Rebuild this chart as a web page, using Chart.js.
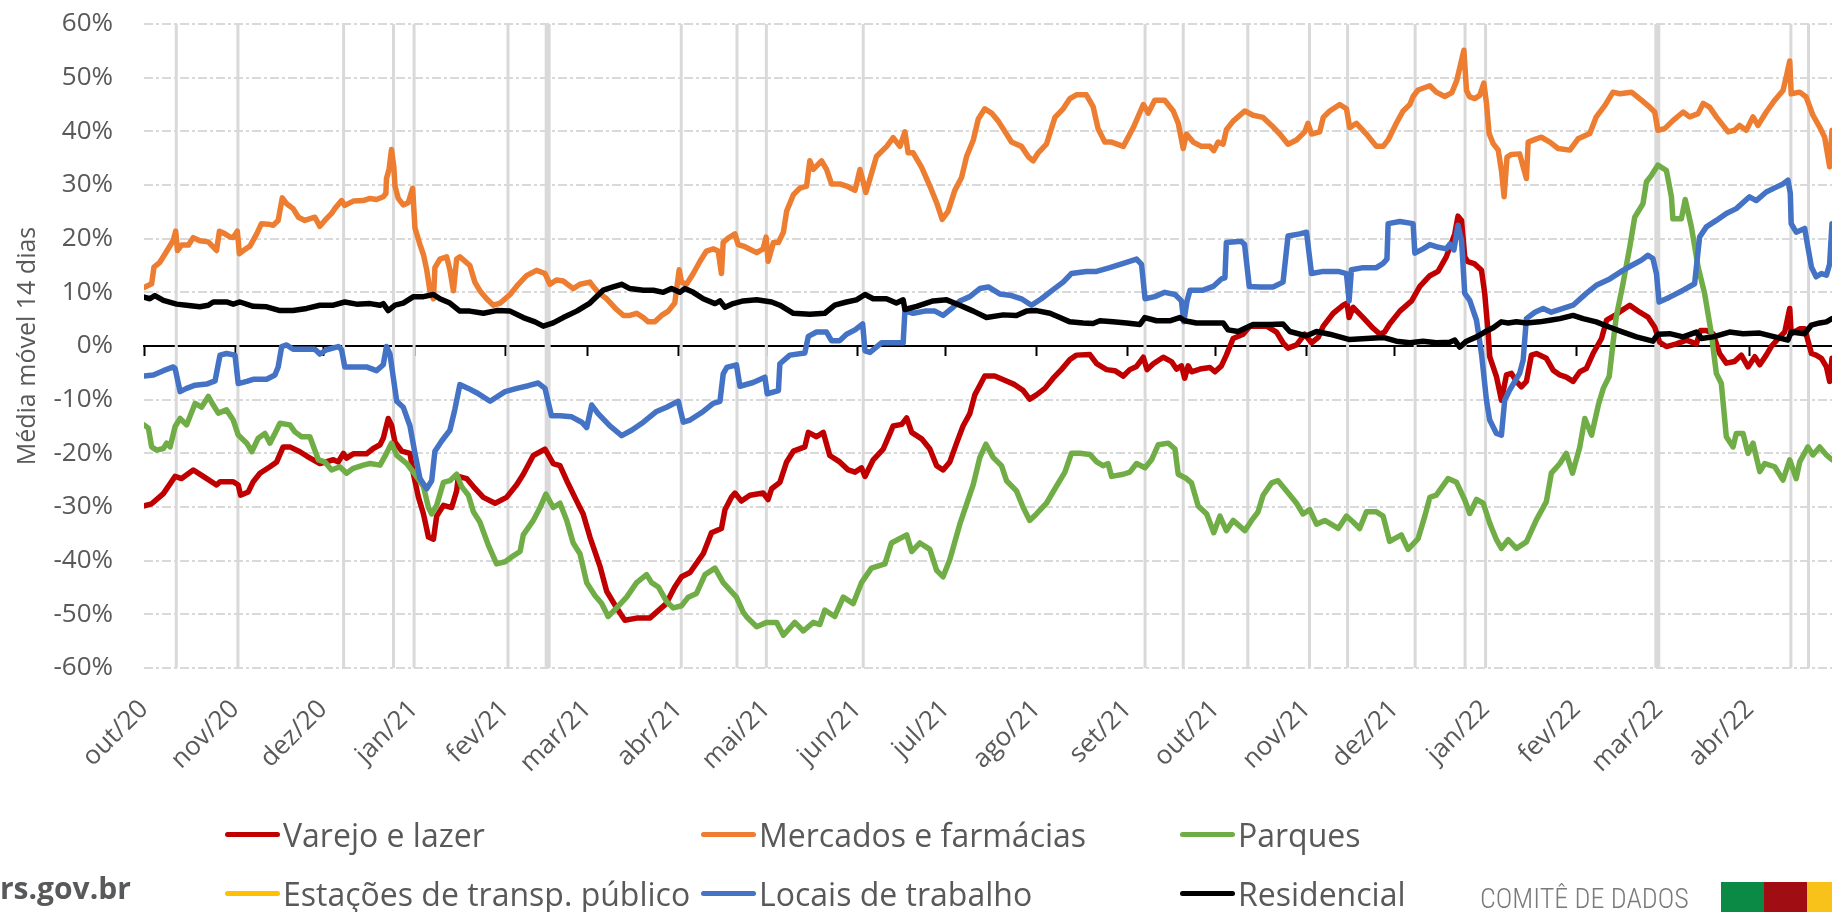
<!DOCTYPE html>
<html lang="pt-BR">
<head>
<meta charset="utf-8">
<title>Mobilidade - média móvel 14 dias</title>
<script src="https://cdn.jsdelivr.net/npm/chart.js@4.4.1/dist/chart.umd.min.js"></script>
<style>
  html, body { margin: 0; padding: 0; background: #fff; }
  body { width: 1832px; height: 912px; position: relative; overflow: hidden; font-family: 'Open Sans', sans-serif; }
  #grafico { position: absolute; left: 0; top: 0; }
  #legenda { position: absolute; left: 225px; top: 805px; display: grid; grid-template-columns: 476px 479px auto; grid-auto-rows: 59px; }
  .item { display: flex; align-items: center; font-size: 32px; color: #595959; white-space: nowrap; line-height: 1; }
  .traco { display: inline-block; width: 55px; height: 5px; border-radius: 3px; margin-right: 3px; }
  .rs { position: absolute; left: 0; top: 868px; font-weight: bold; font-size: 30px; line-height: 40px; color: #58595b; }
  .comite { position: absolute; left: 1480px; top: 884px; font-family: 'Liberation Sans Narrow', 'Roboto', sans-serif; font-stretch: condensed; font-weight: 300; font-size: 28px; line-height: 30px; color: #7a7a7a; }
  .faixa { position: absolute; top: 882px; width: 43px; height: 30px; }
</style>
</head>
<body>
<canvas id="grafico" width="1832" height="912"></canvas>
<div id="legenda"></div>
<div class="rs">rs.gov.br</div>
<div class="comite">COMITÊ DE DADOS</div>
<div class="faixa" style="left:1721px;background:#0b8a45"></div>
<div class="faixa" style="left:1764px;background:#a00d12"></div>
<div class="faixa" style="left:1807px;background:#f8c21b"></div>
<script>
const COLORS = {
    varejo: '#c00000',
    mercados: '#ed7d31',
    parques: '#70ad47',
    estacoes: '#ffc000',
    locais: '#4472c4',
    residencial: '#000000',
    feriado: '#d9d9d9',
    grid: '#d9d9d9',
    text: '#595959',
};

// dia 0 = 01/out/2020
const DIA0 = Date.UTC(2020, 9, 1);
const dia = s => (Date.parse(s) - DIA0) / 864e5;
const X_MAX = 575;
const Y_MIN = -60, Y_MAX = 60;

const meses = ['out/20', 'nov/20', 'dez/20', 'jan/21', 'fev/21', 'mar/21', 'abr/21', 'mai/21', 'jun/21',
    'jul/21', 'ago/21', 'set/21', 'out/21', 'nov/21', 'dez/21', 'jan/22', 'fev/22', 'mar/22', 'abr/22'];
const inicioMes = meses.map((m, i) => (Date.UTC(2020, 9 + i, 1) - DIA0) / 864e5);

const feriados = ['2020-10-12', '2020-11-02', '2020-12-08', '2020-12-25', '2021-01-01', '2021-02-02',
    '2021-02-15', '2021-02-16', '2021-04-02', '2021-04-21', '2021-05-01', '2021-06-03', '2021-09-07',
    '2021-09-20', '2021-10-12', '2021-11-02', '2021-11-15', '2021-12-08', '2021-12-25', '2022-01-01',
    '2022-02-28', '2022-03-01', '2022-04-15', '2022-04-21'];

// [dia, variação %]
const varejo = [[0,-29.8],[2.6,-29.4],[6.6,-27.5],[10.6,-24.3],[12.8,-24.7],[16.8,-23.1],[20.2,-24.3],[24.7,-25.9],[25.9,-25.3],[30.4,-25.3],[32.1,-25.9],[32.9,-27.8],[35.5,-27.2],[37.2,-25.3],[39.5,-23.7],[42.9,-22.5],[45.2,-21.6],[47.4,-18.8],[49.7,-18.8],[53.1,-19.7],[55.4,-20.5],[59.9,-21.9],[64.5,-21.2],[66.2,-21.6],[67.9,-20],[69,-20.9],[71.3,-20.1],[75.8,-20.1],[78.1,-19.1],[80.4,-18.4],[81.5,-17.2],[83.2,-13.5],[84.3,-14.7],[85.5,-17.9],
    [87.8,-19.6],[90.6,-20],[91.8,-23.9],[93.5,-28.2],[95.2,-31.3],[96.9,-35.6],[98.6,-36],[99.7,-31.7],[102,-29.7],[104.8,-30.1],[106.5,-27],[107.1,-24.3],[109.9,-24.7],[112.2,-26.2],[115.6,-28.2],[119.6,-29.3],[123.5,-28.2],[127,-25.8],[129.2,-23.9],[132.6,-20.4],[136.6,-19.2],[139.4,-21.9],[141.7,-22.3],[144,-25.1],[147.4,-28.9],[149.6,-31.3],[151.9,-35.6],[155.3,-41],[157.6,-45.7],[161,-48.8],[163.8,-51.1],[167.8,-50.7],[172.3,-50.7],[174.6,-49.6],[177.9,-48],[180.8,-44.9],[183.1,-43],[186,-42.2],[190.5,-38.7],[193.3,-34.8],[196.7,-34],[197.9,-30.5],[200.1,-28.2],[201.3,-27.4],[203.5,-28.9],
    [206.4,-27.8],[210.9,-27.4],[212.6,-28.6],[213.8,-26.6],[216.6,-25.4],[218.9,-21.6],[221.2,-19.6],[225.1,-18.8],[226.3,-16.1],[229.1,-16.9],[231.4,-16.1],[233.6,-20.4],[237,-21.6],[239.9,-23.1],[242.2,-23.5],[244.4,-22.7],[245.6,-24.3],[248.4,-21.2],[251.8,-19.2],[255.2,-14.9],[258.1,-14.6],[259.8,-13.4],[261.5,-16.1],[264.9,-17.3],[267.7,-19.2],[270,-22.3],[272.2,-23.1],[274.5,-21.6],[276.8,-18.1],[279,-14.9],[281.3,-12.6],[283,-9.1],[286.4,-5.6],[289.8,-5.6],[293.2,-6.4],[296.6,-7.2],[299.5,-8.3],[301.7,-9.9],[304,-9.1],[306.9,-7.9],[309.7,-6],[312.5,-4.4],[315.4,-2.5],[317.6,-1.7],[322.2,-1.6],
    [324.5,-3.3],[327.9,-4.4],[330.7,-4.6],[333.6,-5.6],[335.8,-4.4],[338.1,-3.8],[340.4,-2.1],[341.7,-4.4],[343.8,-3.3],[347.2,-2.1],[350,-2.9],[351.7,-4.3],[353.4,-3.7],[354.5,-6],[355.7,-3.7],[356.8,-4.8],[359.7,-4.3],[363.1,-4],[364.8,-4.8],[367,-3.7],[368.7,-1.7],[371,1.4],[374.4,2.2],[376.7,3.7],[382.4,3.7],[385.8,2.6],[388,0.6],[389.7,-0.4],[392.6,0.2],[395.4,2.2],[397.7,0.6],[400,1.6],[401.7,3.7],[405.1,6.1],[408.5,7.6],[409.8,8],[410.5,5.3],[411.9,7.2],[415.3,5.3],[418.7,3.3],[421,2.2],[422.6,2.6],[424.3,4.1],[427.8,6.5],[431.8,8.4],[434.6,11.1],[438,13.1],[440.8,13.9],[443.6,16.6],
    [446.5,20.9],[447.6,24.2],[448.8,23.4],[449.9,16.6],[451,15.7],[453.3,15.3],[455.6,14.1],[456.7,9.8],[457.9,2.3],[458.4,-2],[460.7,-5.7],[462.4,-10.1],[464.1,-5.4],[465.8,-5.1],[467.5,-6.6],[469.2,-7.6],[470.9,-6.6],[472.6,-1.7],[474.3,-1.4],[477.7,-2.3],[480,-4.5],[482.3,-5.4],[484.5,-5.8],[486.8,-6.6],[489.1,-4.8],[491.3,-4.2],[493.6,-1.4],[496.5,1.4],[498.2,4.8],[501,5.7],[503.3,6.6],[506.1,7.6],[509.5,6.3],[512.3,5.4],[514.6,3.5],[516.3,0.7],[518.6,-0.1],[522,0.4],[525.4,1.1],[528.8,0.4],[530.2,2.9],[532.2,2.9],[534.5,2.3],[536.7,-1.4],[539,-3.2],[541.8,-2.9],[544.1,-1.7],[546.4,-3.9],[548.7,-2],[550.4,-3.5],[552.6,-1.7],[554.3,-0.1],[557.2,1.7],[558.9,2.6],[560.6,7],[561.1,2.3],[564,3.2],[565.7,3.2],[568,-1.4],[569.6,-1.7],[571.4,-2.3],[573.1,-3.9],[574.2,-6.6],[575,-2.3]];

const mercados = [[0,10.9],[2.6,11.6],[3.4,14.7],[5.4,15.6],[7.2,17.2],[10,19.7],[10.8,21.4],[11.4,17.8],[12.8,18.8],[15.1,18.8],[16.8,20.2],[19,19.6],[21.9,19.4],[24.7,17.8],[25.7,21.4],[27.6,20.9],[29.3,20.3],[30.4,20.2],[31.8,21.4],[32.5,17.2],[34.4,18],[36.1,18.6],[38.4,20.9],[40,22.8],[42.3,22.7],[44,22.5],[45.7,23.4],[47.1,27.6],[48.6,26.5],[50.8,25.6],[52.6,24],[54.8,23.4],[58.2,24],[59.9,22.3],[61.6,23.4],[63.9,24.7],[65,25.6],[67.3,27.1],[68.4,26.2],[71.3,27],[74.7,27.1],[77,27.5],[79.2,27.3],[81.5,27.8],[82.4,28.4],[82.6,31.2],[83.5,33],[84.3,36.6],[85.1,33.4],[85.5,29.8],[86.6,27.5],[88.3,26.3],[90,26.7],[91.5,29.4],[92.3,22],[94,18.9],[95.2,17],[96.3,14.2],[97.4,10.3],[98.6,8.8],[99.1,14.6],[100.8,16.2],[103.1,16.6],[104.2,14.2],[105.4,10.3],[106.5,16.2],[107.6,16.6],[109.3,15.8],[111,15],[112.7,11.9],[114.4,10.3],[116.7,8.8],[119,7.6],[121.3,8],[124.7,9.6],[127.5,11.5],[130.3,13.1],[133.7,14.1],[136.6,13.5],[138.3,11.5],[140.5,12.3],[142.8,12.1],[146.2,10.7],[148.5,11.5],[151.9,11.9],[153,11.1],[154.7,10],[157.6,8.8],[161,6.8],[163.3,5.7],[165.5,5.7],[167.8,6.1],[170.1,5.3],[171.8,4.5],[174,4.5],[176.3,5.7],[178.6,6.5],[180.8,8],[182.3,14.2],[183.1,11.9],[184.8,11.5],[187.1,13.5],[189.4,15.8],[191.6,17.7],[193.9,18.1],[195.6,17.7],[196.7,13.5],[197.3,19.3],[199,20.1],[200.1,20.5],[201.3,20.9],[202.4,18.9],[204.7,18.5],
    [208.7,17.4],[210.9,18.1],[211.9,20.3],[212.6,15.8],[214.4,19.3],[216.1,19.3],[217.8,21.2],[218.9,25.1],[221.2,28.2],[223.4,29.4],[225.7,29.8],[226.8,34.5],[228,32.9],[230.8,34.5],[232.5,32.9],[234.2,30.2],[237,30.2],[239.3,29.8],[242.2,29],[243.9,32.9],[245.9,28.6],[247.8,32.1],[249.5,35.3],[253,37.2],[255.2,38.8],[257.5,37.2],[259.2,39.9],[260.3,36],[262,36],[264.9,33.3],[267.7,29.8],[270,26.7],[271.9,23.6],[273.9,25.1],[276.2,29],[278.5,31.4],[280.2,35.3],[282.5,38.4],[284.2,42.3],[286.4,44.2],[288.7,43.4],[291,41.9],[293.8,39.5],[295.5,38],[298.9,37.2],[301.2,35.3],[302.9,34.5],[304.6,36],[307.4,37.6],[310.3,42.6],[313.1,44.2],[315.4,46.1],[317.6,46.8],[321,46.8],[323.3,44.6],
    [325,40.5],[327.3,38],[329.6,38],[333.6,37.2],[337,40.7],[340.4,45],[342.1,43.4],[344.3,45.8],[347.7,45.8],[350.6,43.8],[352.3,41.5],[354,36.8],[355.1,39.5],[357.4,38],[360.2,37.2],[363.1,37.2],[364.4,36.4],[365.9,38],[367.6,37.6],[368.7,40.3],[371,41.9],[375,43.8],[377.8,43],[381.2,42.6],[384.1,41.1],[386.9,39.5],[389.7,37.6],[392.6,38.4],[395.4,39.9],[396.5,41.5],[397.7,39.5],[400.5,39.9],[401.7,42.6],[403.9,43.8],[407.3,45],[409.6,44.2],[410.7,40.7],[413,41.5],[416.4,39.5],[419.8,37.2],[422.1,37.2],[423.8,38.4],[426.6,41.5],[428.9,43.8],[431.2,45],[432.3,46.5],[434,47.7],[438,48.5],[440.2,47.3],[443.1,46.5],
    [445.5,47.2],[447.2,49.5],[448.5,52.5],[449.6,55.1],[450.5,47.6],[451.6,46.4],[453.3,46.1],[455,46.7],[456.4,49],[457.3,45.2],[458.2,39.6],[459.6,37.7],[461.3,36.5],[462.4,32.7],[463.3,27.8],[464.3,35.2],[465.8,35.7],[468.6,35.8],[469.8,33.4],[470.9,31.2],[471.5,38],[474.3,38.6],[476,38.9],[478.9,38],[481.7,36.8],[485.7,36.5],[488.5,38.6],[492.5,39.6],[494.7,42.7],[497.6,44.8],[500.4,47.3],[502.7,47],[506.7,47.3],[510.1,45.8],[512.9,44.5],[514.6,43.6],[515.7,40.2],[518,40.5],[520.8,42],[524.3,43.6],[526.5,42.7],[529.4,43.3],[531.1,45.2],[533.3,44.5],[535.6,42.7],[539.6,39.9],[541.8,40.2],[543.5,41.1],[545.8,40.2],[548.1,42.7],[549.8,41.1],[552.6,43.6],[555.5,45.8],[558.3,47.6],[559.4,50.1],[560.6,53.1],[561.1,47],[564,47.3],[566.2,46.4],[568.5,43],[570.8,40.8],[572.5,38.9],[574.2,33.4],[575,40.2]];

const parques = [[0,-14.7],[1.5,-15.3],[2.6,-18.8],[4.3,-19.4],[6.6,-19.1],[7.7,-18.1],[8.9,-18.8],[10.6,-15],[12.3,-13.5],[14.5,-14.7],[17.4,-10.7],[19.6,-11.4],[21.9,-9.4],[23.6,-11],[25.3,-12.5],[28.1,-11.9],[30.4,-13.8],[32.1,-16.6],[35,-18.1],[36.7,-19.7],[38.9,-17.2],[41.2,-16.3],[42.9,-18.1],[44.6,-16.3],[46.3,-14.4],[49.7,-14.7],[51.4,-16],[53.7,-16.9],[56.5,-16.9],[59.4,-21.2],[61.6,-21.6],[63.9,-23.1],[66.7,-22.5],[69,-23.7],[71.3,-22.8],[74.7,-22.2],[77,-21.9],[80.4,-22.2],[82.6,-20],[84.3,-18.1],[86.1,-20.4],[89.5,-21.9],[92.3,-23.9],[95.2,-26.2],[96.9,-30.1],[98,-31.3],[99.7,-29.7],[102,-25.4],[104.2,-25.1],[106.5,-23.9],[108.2,-26.2],[110.5,-27.8],[112.2,-30.9],[114.4,-32.8],[117.3,-37.1],[120.1,-40.6],[123,-40.2],[125.8,-39.1],[128.1,-38.3],[129.2,-35.2],[132.6,-32.5],[134.9,-30.1],[136.9,-27.6],[139.4,-30.1],[141.7,-29.3],[144,-32.5],[146.2,-36.7],[148.5,-38.7],[150.8,-44.1],[153.6,-46.5],[155.9,-48],[158.1,-50.4],[161,-48.8],[164.4,-46.8],[167.8,-44.1],[171.2,-42.6],[172.9,-44.1],[175.2,-44.9],[178,-47.6],[180.3,-48.8],[183.1,-48.4],[185.4,-46.8],[188.2,-46.1],[191.1,-42.6],[194.5,-41.4],[197.3,-44.1],[201.8,-46.8],[204.1,-49.6],
    [205.5,-50.6],[208.7,-52.3],[212.1,-51.5],[215.5,-51.5],[217.8,-53.9],[221.7,-51.5],[224.6,-53.1],[228,-51.5],[230.2,-51.9],[231.9,-49.2],[235.3,-50.4],[238.2,-46.8],[241.6,-48],[244.4,-44.1],[247.8,-41.4],[252.4,-40.6],[254.6,-36.7],[259.8,-35.2],[261.5,-38.3],[264.3,-36.7],[267.7,-37.9],[270,-41.8],[272.2,-43],[274.5,-39.8],[277.9,-33.2],[282.5,-25.8],[284.7,-20.8],[286.8,-18.3],[289.3,-20.8],[292.1,-22.3],[293.8,-25.1],[297.2,-27],[299.5,-30.1],[301.7,-32.5],[304,-31.3],[307.4,-29.3],[310.3,-26.6],[313.7,-23.5],[315.9,-20],[318.8,-20],[322.2,-20.2],
    [324.5,-21.6],[326.7,-22.3],[328.4,-21.9],[329.6,-24.3],[333.6,-23.9],[335.8,-23.5],[338.1,-21.9],[341,-22.7],[343.2,-21.2],[345.5,-18.4],[348.9,-18.1],[351.2,-19.2],[352.3,-23.9],[355.1,-24.7],[356.8,-25.5],[359.1,-29.8],[362,-31.3],[364.4,-34.8],[366.5,-31.7],[368.7,-34.4],[371,-32.5],[375,-34.4],[377.3,-32.5],[379.5,-30.9],[381.2,-27.8],[384.1,-25.5],[386.3,-25.1],[389.2,-27],[392.6,-29.3],[394.8,-31.3],[397.1,-30.5],[399.4,-33.2],[402.2,-32.5],[406.8,-34],[409.6,-31.7],[411.9,-32.8],[414.1,-34],[416.4,-30.9],[419.8,-30.9],[422.1,-31.7],[424.3,-36.4],[428.3,-35.2],[430.6,-37.9],[434,-35.9],[436.3,-31.7],[438,-28.2],[440.2,-27.8],[444.2,-24.7],[447.1,-25.4],
    [449.9,-28.7],[451.6,-31.2],[453.9,-28.6],[456.2,-29.3],[458.4,-33],[460.7,-36.1],[462.4,-37.7],[464.7,-36.1],[467.5,-37.7],[470.9,-36.5],[474.3,-32.4],[477.7,-29],[479.4,-23.7],[482.3,-21.9],[484.5,-20],[486.6,-23.7],[489.1,-18.8],[490.8,-13.5],[493.1,-16.6],[495.4,-11],[497.1,-7.9],[499.1,-5.7],[500.4,0.5],[501.5,5.4],[503.8,11.6],[506.1,18.4],[507.8,24],[510.6,26.5],[511.8,30.6],[513.5,31.8],[515.7,33.7],[518.6,32.7],[520.3,27.8],[520.8,23.7],[523.7,23.7],[525,27.3],[527.1,22.2],[529.4,14.7],[531.6,9.8],[533.9,2.3],[535.6,-5.1],[537.3,-7],[539,-16.9],[541.3,-18.8],[542.4,-16.3],[544.7,-16.3],[546.4,-20],[548.1,-18.1],[550.4,-23.4],[552.1,-21.9],[555.5,-22.5],[558.3,-25],[560.6,-21.2],[562.8,-24.7],[564,-21.6],[566.8,-18.8],[568.5,-20.3],[570.8,-18.8],[573.1,-20.3],[575,-21.2]];

// série sem dados visíveis no período
const estacoes = [];

const locais = [[0,-5.6],[3.2,-5.4],[6.6,-4.6],[10,-3.9],[10.6,-4.2],[12.3,-8.5],[14.5,-7.9],[17.4,-7.3],[21.3,-7.1],[24.2,-6.5],[25.9,-1.7],[28.1,-1.4],[31,-1.7],[32.1,-7],[35,-6.6],[37.2,-6.2],[41.8,-6.2],[44.6,-5.4],[45.7,-3.9],[46.9,-0.1],[48.6,0.2],[50.8,-0.6],[55.4,-0.6],[58.2,-0.6],[59.9,-1.5],[62.2,-0.7],[66.2,-0.1],[67.3,-0.7],[68.4,-3.9],[71.3,-3.9],[75.8,-3.9],[79.2,-4.6],[81.5,-3.5],[82.6,-0.1],[83.8,-1.5],[84.9,-5.8],[86.1,-10.3],[88.3,-11.4],[90.6,-14.9],[92.3,-20],[94,-24.7],[96.3,-26.6],[98,-25.1],[99.1,-19.6],[101.4,-17.7],[104.2,-15.7],[105.9,-11.8],[107.6,-7.2],[110.5,-7.9],[113.3,-8.7],[117.9,-10.3],[123,-8.5],[127,-7.9],[130.9,-7.4],[134.3,-6.9],[136.6,-7.9],[138.8,-13],[141.7,-13],[145.7,-13.2],[149.1,-14.2],[150.8,-15.2],[152.5,-11],[154.7,-12.6],[158.7,-14.9],[162.7,-16.7],[166.1,-15.7],[170.1,-14.2],[174.6,-12.2],[178,-11.4],[182,-10.3],[183.7,-14.2],[186,-13.8],[190.5,-12.2],[193.9,-10.7],[196.2,-10.3],[197.3,-5.2],[198.5,-4],[201.8,-3.5],[203,-7.5],
    [207.5,-6.8],[211.5,-5.8],[212.3,-8.9],[216.1,-8.3],[216.6,-3.3],[220,-1.7],[225.1,-1.3],[226.3,1.8],[229.1,2.6],[232.5,2.6],[234.2,1],[237,1],[239.3,2.2],[242.2,3],[244.8,4.1],[245.6,-0.9],[247.3,-1.2],[251.2,0.6],[258.6,0.6],[259.2,6.5],[262,6.1],[266,6.5],[269.4,6.5],[272.2,5.7],[275.6,7.2],[277.9,8.4],[281.3,9.2],[284.7,10.7],[287.6,11],[291.5,9.7],[295.5,9.4],[298.9,8.8],[302.3,7.6],[305.7,8.8],[309.7,10.5],[313.1,11.9],[315.9,13.5],[321,13.9],
    [324.5,13.9],[329,14.6],[333.6,15.4],[338.1,16.2],[339.8,15.2],[341,8.8],[344.3,9.2],[347.7,10],[351.2,9.6],[353.4,8.4],[354.2,4.5],[355.3,8.4],[356.3,10.4],[360.8,10.4],[364.2,11.1],[367,12.5],[368.2,12.7],[368.7,19.3],[373.8,19.5],[374.9,18.9],[376.5,11.1],[380.1,11],[384.6,11],[388,11.9],[389.7,20.5],[393.7,20.9],[396,21.2],[397.7,13.5],[401.7,13.9],[406.8,13.9],[409.6,13.5],[410.5,8.4],[411.3,14.2],[415.3,14.6],[419.8,14.6],[422.1,15.4],[423.4,16.2],[423.8,22.8],[427.8,23.2],[432.3,22.8],[432.9,17.3],[435.7,18.1],[438,18.9],[440.2,18.5],[443.6,18.1],
    [444.8,19],[446.2,17.9],[447.6,22.5],[448.8,19.7],[449.9,9.8],[451.6,8.5],[453.9,4.8],[455.6,-1.4],[457.3,-10.1],[458.4,-13.8],[460.7,-16.3],[462.4,-16.6],[463.5,-10.1],[465.2,-8.2],[468.6,-5.1],[469.8,-2.6],[470.9,5.1],[473.8,6.3],[476.6,7],[479.4,6.3],[483.4,7],[486.8,7.6],[491.3,9.8],[494.7,11.3],[499.3,12.5],[503.8,14.1],[506.7,15],[510.1,16],[512.3,16.9],[514,16.3],[515.2,13.5],[516.1,8.2],[519.7,9.1],[524.3,10.4],[528.2,11.6],[528.8,14.7],[529.9,20.3],[532.2,22.2],[535.6,23.4],[539,24.7],[542.4,25.6],[546.9,27.8],[549.2,27.1],[552.6,28.7],[556,29.6],[558.3,30.2],[560,30.9],[560.8,28.4],[561.1,22.8],[562.8,21.2],[565.7,21.9],[566.8,18.4],[568,14.7],[569.6,12.9],[571.4,13.5],[573.1,13.2],[574.2,15.3],[575,22.8]];

const residencial = [[0,9.1],[2,8.8],[3.7,9.4],[6.6,8.5],[11.1,7.8],[14.5,7.6],[19,7.3],[21.9,7.6],[23.6,8.2],[28.1,8.2],[30.4,7.8],[32.7,8.2],[37.2,7.4],[41.8,7.3],[46.3,6.6],[50.8,6.6],[55.4,7],[59.9,7.6],[64.5,7.6],[68.4,8.2],[72.4,7.8],[77,7.9],[80.4,7.6],[81.5,7.9],[83.2,6.6],[85.5,7.6],[88.3,8],[91.8,9.2],[95.2,9.2],[98.6,9.6],[100.8,8.8],[104.2,8],[107.6,6.5],[111,6.5],[115.6,6.1],[120.1,6.6],[124.7,6.5],[129.2,5.3],[133.2,4.5],[136,3.7],[139.4,4.3],[142.8,5.3],[147.4,6.5],[151.9,8],[156.4,10.4],[159.8,11],[162.7,11.5],[165.5,10.7],[170.1,10.4],[173.5,10.4],[176.9,10],[179.7,10.7],[182.5,10],[184.2,10.7],[187.1,10],[190.5,8.8],[194.5,7.9],[196.2,8.4],[197.9,7.2],[200.7,7.9],[204.1,8.4],
    [208.7,8.6],[213.8,8.2],[216.6,7.6],[221.2,6.1],[226.8,5.9],[231.9,6.1],[235.3,7.6],[239.3,8.2],[242.7,8.6],[245.6,9.6],[248.4,8.8],[252.9,8.8],[256.3,8],[258.6,8.6],[259.2,6.8],[263.2,7.4],[268.8,8.4],[273.4,8.6],[277.9,7.6],[282.5,6.5],[287,5.3],[292.7,5.8],[297.2,5.7],[300.6,6.5],[304,6.6],[308.6,6.1],[312,5.3],[315.4,4.5],[319.9,4.3],[323.3,4.2],
    [325.6,4.7],[330.1,4.5],[334.7,4.3],[339.2,4],[340.9,5.3],[344.9,4.7],[349.4,4.7],[352.8,5.3],[354.5,4.7],[358.5,4.3],[364.2,4.3],[367.6,4.3],[369.3,3],[372.7,2.7],[377.8,4],[383.5,4],[388,4.1],[390.3,2.7],[396,1.9],[399.4,2.7],[403.9,2.2],[410.7,1.2],[416.4,1.4],[422.1,1.6],[426.6,0.9],[431.2,0.6],[435.7,0.9],[440.2,0.6],
    [444.8,0.7],[446.5,1.1],[448.2,-0.2],[450.5,0.9],[453.9,1.7],[456.7,2.6],[459.6,3.4],[462.4,4.5],[464.7,4.3],[467.5,4.5],[470.9,4.3],[475.4,4.5],[478.9,4.8],[482.3,5.1],[486.8,5.7],[490.2,5.1],[494.7,4.5],[499.3,3.5],[503.8,2.6],[508.4,1.7],[514,0.9],[515.7,2.2],[519.7,2.3],[524.3,1.7],[528.8,2.6],[530.5,1.4],[534.5,1.7],[540.1,2.6],[544.7,2.3],[550.4,2.4],[555.5,1.7],[560,1.1],[561.1,2.6],[565.7,2.3],[568,3.9],[570.8,4.3],[573.1,4.5],[575,5.1]];

const serie = (label, pontos, cor, ordem) => ({
    label,
    data: pontos.map(([x, y]) => ({ x, y })),
    borderColor: cor,
    backgroundColor: cor,
    borderWidth: 5.5,
    borderJoinStyle: 'round',
    borderCapStyle: 'round',
    pointRadius: 0,
    tension: 0,
    order: ordem,
});

// linhas verticais cinzas nos feriados
const linhasFeriados = feriados.flatMap(f => [
    { x: dia(f), y: Y_MIN }, { x: dia(f), y: Y_MAX }, { x: dia(f), y: null }
]);

const marcasMes = scale => { scale.ticks = inicioMes.map(v => ({ value: v })); };

const grafico = new Chart(document.getElementById('grafico'), {
    type: 'line',
    data: {
        datasets: [
            serie('Varejo e lazer', varejo, COLORS.varejo, 6),
            serie('Mercados e farmácias', mercados, COLORS.mercados, 5),
            serie('Parques', parques, COLORS.parques, 4),
            serie('Estações de transp. público', estacoes, COLORS.estacoes, 3),
            serie('Locais de trabalho', locais, COLORS.locais, 2),
            serie('Residencial', residencial, COLORS.residencial, 1),
            {
                label: '',
                data: linhasFeriados,
                borderColor: COLORS.feriado,
                borderWidth: 3,
                pointRadius: 0,
                spanGaps: false,
                order: 10,
            }
        ]
    },
    options: {
        responsive: false,
        devicePixelRatio: 1,
        animation: false,
        layout: { padding: { top: 24, left: 0, right: 0, bottom: 0 } },
        plugins: {
            legend: { display: false },
            tooltip: { enabled: false }
        },
        scales: {
            x: {
                type: 'linear',
                position: 'bottom',
                min: 0,
                max: X_MAX,
                afterBuildTicks: marcasMes,
                afterFit: scale => { scale.height = 244; },
                grid: { display: false, drawTicks: false },
                border: { display: false },
                ticks: {
                    autoSkip: false,
                    minRotation: 45,
                    maxRotation: 45,
                    padding: 26,
                    color: COLORS.text,
                    font: { family: 'Open Sans', size: 26 },
                    callback: (v, i) => meses[i]
                }
            },
            x0: {
                type: 'linear',
                axis: 'x',
                position: { y: 0 },
                min: 0,
                max: X_MAX,
                afterBuildTicks: marcasMes,
                grid: { drawOnChartArea: false, drawTicks: true, tickLength: 9, tickWidth: 2, tickColor: '#000' },
                border: { display: true, color: '#000', width: 2 },
                ticks: { display: false }
            },
            y: {
                position: 'left',
                min: Y_MIN,
                max: Y_MAX,
                afterFit: scale => { scale.width = 144; },
                // espaço entre rótulos e área do gráfico via marca invisível
                grid: { color: COLORS.grid, lineWidth: 2, drawTicks: true, tickLength: 30, tickColor: 'transparent' },
                border: { display: false, dash: [9, 3, 3, 3] },
                ticks: {
                    stepSize: 10,
                    padding: 1,
                    color: COLORS.text,
                    font: { family: 'Open Sans', size: 26 },
                    callback: v => v + '%'
                },
                title: {
                    display: true,
                    text: 'Média móvel 14 dias',
                    color: COLORS.text,
                    font: { family: 'Open Sans', size: 25 },
                    padding: { top: 13, bottom: 0 }
                }
            }
        }
    }
});

// legenda em 3 colunas, como no original
const legenda = document.getElementById('legenda');
grafico.data.datasets.filter(d => d.label).forEach(d => {
    const item = document.createElement('div');
    item.className = 'item';
    const traco = document.createElement('span');
    traco.className = 'traco';
    traco.style.background = d.borderColor;
    item.appendChild(traco);
    item.appendChild(document.createTextNode(d.label));
    legenda.appendChild(item);
});
</script>
</body>
</html>
